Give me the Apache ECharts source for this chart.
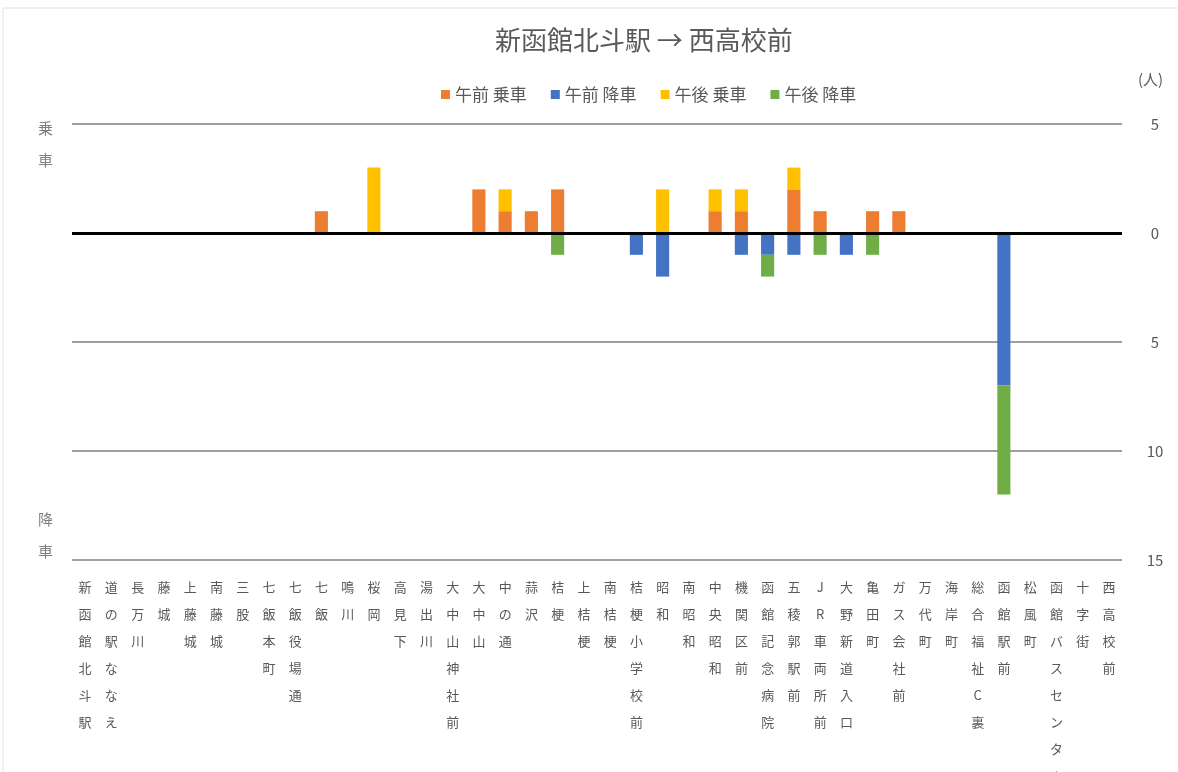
<!DOCTYPE html>
<html lang="ja">
<head>
    <meta charset="UTF-8">
    <title>新函館北斗駅 → 西高校前</title>
    <script src="https://cdn.jsdelivr.net/npm/echarts@6/dist/echarts.min.js"></script>
    <style>
        *{
            margin: 0;
            padding: 0;
        }
        body{
            width: 100%;
            height: 100%;
            overflow: hidden;
            background: #fff;
        }
        .container{
            width: 1178px;
            height: 772px;
        }
    </style>
</head>
<body>
<div class="container"></div>
<script>
    // バス停
    const stops = ['新函館北斗駅', '道の駅ななえ', '長万川', '藤城', '上藤城', '南藤城', '三股', '七飯本町',
        '七飯役場通', '七飯', '鳴川', '桜岡', '高見下', '湯出川', '大中山神社前', '大中山', '中の通', '蒜沢',
        '桔梗', '上桔梗', '南桔梗', '桔梗小学校前', '昭和', '南昭和', '中央昭和', '機関区前', '函館記念病院',
        '五稜郭駅前', 'JR車両所前', '大野新道入口', '亀田町', 'ガス会社前', '万代町', '海岸町', '総合福祉C裏',
        '函館駅前', '松風町', '函館バスセンター', '十字街', '西高校前'];

    // 乗車は正、降車は負
    const amBoard  = [0,0,0,0,0,0,0,0,0,1,0,0,0,0,0,2,1,1,2,0,0,0,0,0,1,1,0,2,1,0,1,1,0,0,0,0,0,0,0,0];
    const amAlight = [0,0,0,0,0,0,0,0,0,0,0,0,0,0,0,0,0,0,0,0,0,-1,-2,0,0,-1,-1,-1,0,-1,0,0,0,0,0,-7,0,0,0,0];
    const pmBoard  = [0,0,0,0,0,0,0,0,0,0,0,3,0,0,0,0,1,0,0,0,0,0,2,0,1,1,0,1,0,0,0,0,0,0,0,0,0,0,0,0];
    const pmAlight = [0,0,0,0,0,0,0,0,0,0,0,0,0,0,0,0,0,0,-1,0,0,0,0,0,0,0,-1,0,-1,0,-1,0,0,0,0,-5,0,0,0,0];

    const seriesNames = ['午前 乗車', '午前 降車', '午後 乗車', '午後 降車'];
    const colors = ['#ED7D31', '#4472C4', '#FFC000', '#70AD47'];
    const yTicks = [-15, -10, -5, 0, 5];

    const font = '"Noto Sans CJK JP", "Noto Sans", sans-serif';
    let mycharts = echarts.init(document.querySelector('.container'));

    let series = [amBoard, amAlight, pmBoard, pmAlight].map((d, i) => ({
        name: seriesNames[i],
        type: 'bar',
        stack: 'all',
        barWidth: '50%',
        data: d.map(v => v === 0 ? null : v),
        itemStyle: {color: colors[i]}
    }));
    // 0 の太線
    series[0].markLine = {
        silent: true,
        symbol: 'none',
        label: {show: false},
        lineStyle: {color: '#000', width: 3, type: 'solid'},
        data: [{yAxis: 0}]
    };

    let options = {
        color: colors,
        textStyle: {fontFamily: font},
        title: {
            text: '新函館北斗駅 → 西高校前',
            left: 490,
            top: 22,
            textStyle: {fontSize: 26, fontWeight: 'normal', color: '#595959', fontFamily: font}
        },
        legend: {
            data: seriesNames,
            left: 436,
            top: 81,
            icon: 'rect',
            itemWidth: 9,
            itemHeight: 9,
            itemGap: 24,
            textStyle: {fontSize: 17, color: '#595959', fontFamily: font}
        },
        grid: {left: 72, right: 56, top: 124, bottom: 212, outerBoundsMode: 'none'},
        xAxis: {
            type: 'category',
            data: stops,
            axisLine: {show: false},
            axisTick: {show: false},
            axisLabel: {
                interval: 0,
                margin: 14,
                fontSize: 13,
                lineHeight: 27,
                color: '#595959',
                verticalAlign: 'top',
                formatter: s => s.split('').map(c => c === 'ー' ? '︱' : c).join('\n')
            }
        },
        yAxis: {
            type: 'value',
            position: 'right',
            min: yTicks[0],
            max: yTicks[yTicks.length - 1],
            interval: 5,
            axisLine: {show: false},
            axisTick: {show: false},
            axisLabel: {
                margin: 33,
                align: 'center',
                fontSize: 15,
                color: '#595959',
                formatter: v => Math.abs(v)
            },
            splitLine: {lineStyle: {color: '#7f7f7f', width: 1.5}}
        },
        graphic: [
            {type: 'rect', shape: {x: 3, y: 8, width: 1180, height: 770}, style: {fill: 'none', stroke: '#e3e3e3'}},
            {type: 'text', left: 1138, top: 72, style: {text: '(人)', fill: '#595959', font: '15px ' + font}},
            {type: 'text', left: 38, top: 112, style: {text: '乗\n車', lineHeight: 32, fill: '#7f7f7f', font: '15px ' + font}},
            {type: 'text', left: 38, top: 503, style: {text: '降\n車', lineHeight: 32, fill: '#7f7f7f', font: '15px ' + font}}
        ],
        series
    };

    mycharts.setOption(options);
</script>
</body>
</html>
